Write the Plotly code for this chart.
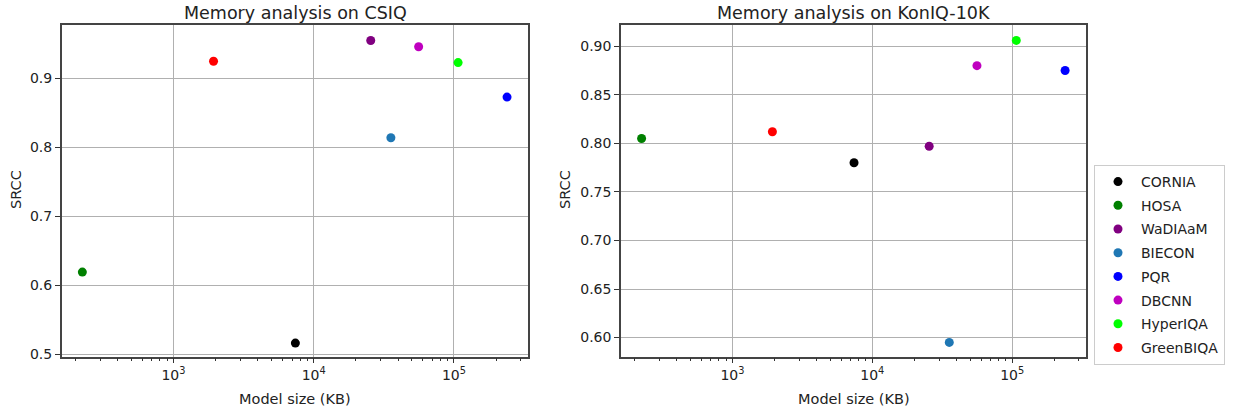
import plotly.graph_objects as go

methods = ["CORNIA", "HOSA", "WaDIAaM", "BIECON", "PQR", "DBCNN", "HyperIQA", "GreenBIQA"]
model_size_kb = [7400, 224, 25500, 35500, 239000, 56000, 107000, 1930]
srcc_csiq = [0.516, 0.619, 0.955, 0.814, 0.873, 0.946, 0.923, 0.925]
srcc_koniq = [0.780, 0.805, 0.797, 0.595, 0.875, 0.880, 0.906, 0.812]
colors = ["#000000", "#008000", "#800080", "#1f77b4", "#0000ff", "#bf00bf", "#00ff00", "#ff0000"]

W, H = 1235, 415
FONT = "DejaVu Sans"

def fx(px):
    return px / W

def fy(py):
    return 1 - py / H

fig = go.Figure()
for i, m in enumerate(methods):
    fig.add_trace(go.Scatter(x=[model_size_kb[i]], y=[srcc_csiq[i]], mode="markers",
                             marker=dict(color=colors[i], size=9), name=m,
                             legendgroup=m, showlegend=False, xaxis="x", yaxis="y"))
for i, m in enumerate(methods):
    fig.add_trace(go.Scatter(x=[model_size_kb[i]], y=[srcc_koniq[i]], mode="markers",
                             marker=dict(color=colors[i], size=9), name=m,
                             legendgroup=m, showlegend=True, xaxis="x2", yaxis="y2"))

minor_vals = [m * 10 ** e for e in range(2, 6) for m in range(2, 10)]

def xax(domain, anchor):
    return dict(domain=domain, anchor=anchor, type="log", range=[2.203, 5.53],
                tickvals=[1e3, 1e4, 1e5],
                ticktext=["10<sup>3</sup>", "10<sup>4</sup>", "10<sup>5</sup>"],
                ticks="outside", ticklen=5, tickcolor="#333", tickwidth=1,
                showgrid=True, gridcolor="#b0b0b0", gridwidth=1,
                showline=True, linecolor="#444", linewidth=1.5, mirror=True,
                zeroline=False, tickfont=dict(family=FONT, size=14, color="#222"),
                minor=dict(tickvals=minor_vals, ticks="outside", ticklen=3,
                           tickcolor="#333", showgrid=False),
                automargin=False)

def yax(domain, anchor, rng, dtick, fmt):
    return dict(domain=domain, anchor=anchor, range=rng, dtick=dtick, tickformat=fmt,
                ticks="outside", ticklen=5, tickcolor="#333",
                showgrid=True, gridcolor="#b0b0b0", gridwidth=1,
                showline=True, linecolor="#444", linewidth=1.5, mirror=True,
                zeroline=False, tickfont=dict(family=FONT, size=14, color="#222"),
                automargin=False)

ydom = [fy(356.5), fy(24.7)]
fig.update_layout(
    width=W, height=H,
    margin=dict(l=0, r=0, t=0, b=0),
    paper_bgcolor="white", plot_bgcolor="white",
    xaxis=xax([fx(61.7), fx(528.3)], "y"),
    yaxis=yax(ydom, "x", [0.4965, 0.978], 0.1, ".1f"),
    xaxis2=xax([fx(621), fx(1086.3)], "y2"),
    yaxis2=yax(ydom, "x2", [0.5805, 0.9222], 0.05, ".2f"),
    legend=dict(x=fx(1094), y=fy(165), xanchor="left", yanchor="top",
                bordercolor="#cccccc", borderwidth=1, bgcolor="white",
                font=dict(family=FONT, size=14, color="#222"),
                itemwidth=36, tracegroupgap=2.5),
    font=dict(family=FONT, color="#222"),
)

annots = [
    dict(text="Memory analysis on CSIQ", x=fx((61.7 + 528.3) / 2), y=fy(12.5), size=17.5, angle=0),
    dict(text="Memory analysis on KonIQ-10K", x=fx((621 + 1086.3) / 2), y=fy(12.5), size=17.5, angle=0),
    dict(text="Model size (KB)", x=fx((61.7 + 528.3) / 2), y=fy(399), size=14.5, angle=0),
    dict(text="Model size (KB)", x=fx((621 + 1086.3) / 2), y=fy(399), size=14.5, angle=0),
    dict(text="SRCC", x=fx(16), y=fy(190), size=14.5, angle=-90),
    dict(text="SRCC", x=fx(565), y=fy(190), size=14.5, angle=-90),
]
for a in annots:
    fig.add_annotation(text=a["text"], x=a["x"], y=a["y"], xref="paper", yref="paper",
                       xanchor="center", yanchor="middle", showarrow=False,
                       textangle=a["angle"], font=dict(family=FONT, size=a["size"], color="#222"))

fig.write_html("out.html", config={"displayModeBar": False},
               post_script="document.body.style.margin='0px';document.body.style.padding='0px';")
